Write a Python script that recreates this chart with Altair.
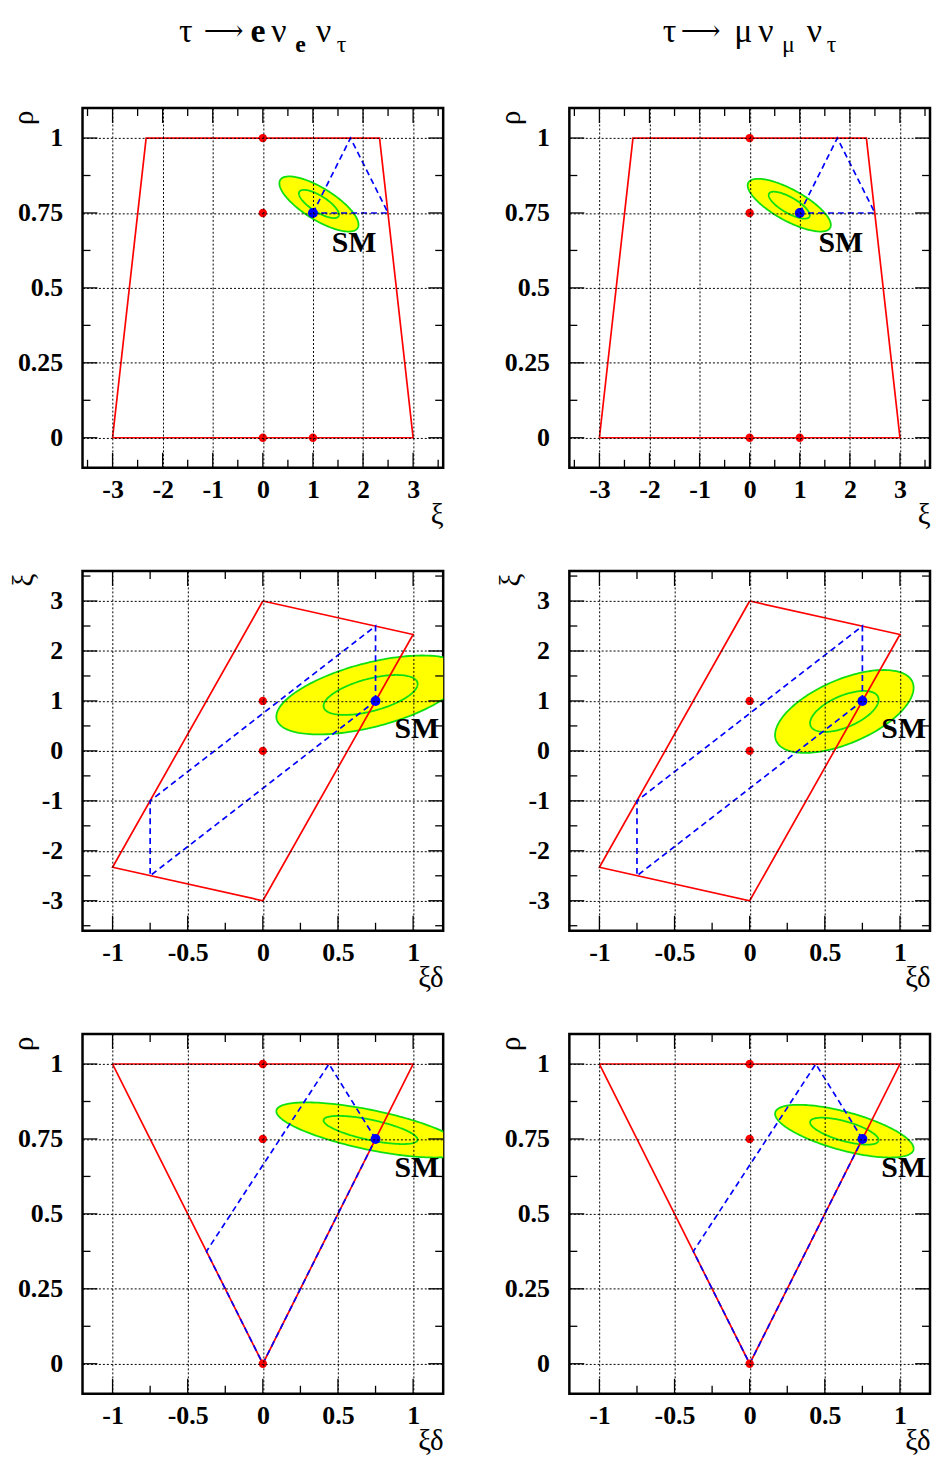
import numpy as np
import pandas as pd
import altair as alt

SERIF = "Liberation Serif"

# ---------------- data ----------------
# titles (glyph pieces: main text and subscripts)
TITLE_E = ["τ", "⟶", "e", "ν", "e", "ν", "τ"]
TITLE_MU = ["τ", "⟶", "μ", "ν", "μ", "ν", "τ"]

# axis tick values
XI_MAJOR = [-3, -2, -1, 0, 1, 2, 3]
XI_MINOR = [-3.5, -2.5, -1.5, -0.5, 0.5, 1.5, 2.5, 3.5]
RHO_MAJOR = [0, 0.25, 0.5, 0.75, 1]
RHO_MINOR = [0.125, 0.375, 0.625, 0.875]
XD_MAJOR = [-1, -0.5, 0, 0.5, 1]
XD_MINOR = [-0.75, -0.25, 0.25, 0.75]

# top row: xi (x) vs rho (y)
BOUND_TOP_X = [-3, -2.33, 2.33, 3, -3]
BOUND_TOP_Y = [0, 1, 1, 0, 0]
DASH_TOP_X = [1, 1.75, 2.5, 1]
DASH_TOP_Y = [0.75, 1, 0.75, 0.75]
DOTS_TOP_X = [0, 0, 0, 1]
DOTS_TOP_Y = [1, 0.75, 0, 0]
SM_TOP = [1, 0.75]
SMLAB_TOP = [1.82, 0.65]

# middle row: xi*delta (x) vs xi (y)
BOUND_MID_X = [0, 1, 0, -1, 0]
BOUND_MID_Y = [3, 2.33, -3, -2.33, 3]
DASH_MID_X = [0.75, 0.75, -0.75, -0.75, 0.75]
DASH_MID_Y = [1, 2.5, -1, -2.5, 1]
DOTS_MID_X = [0, 0]
DOTS_MID_Y = [1, 0]
SM_MID = [0.75, 1]
SMLAB_MID = [1.025, 0.44]

# bottom row: xi*delta (x) vs rho (y)
BOUND_BOT_X = [-1, 1, 0, -1]
BOUND_BOT_Y = [1, 1, 0, 1]
DASH_BOT_X = [0.75, 0.44, -0.375, 0, 0.75]
DASH_BOT_Y = [0.75, 1, 0.375, 0, 0.75]
DOTS_BOT_X = [0, 0, 0]
DOTS_BOT_Y = [1, 0.75, 0]
SM_BOT = [0.75, 0.75]
SMLAB_BOT = [1.025, 0.652]

# measured contours: order [xi, xi*delta, rho]
ELL_E_CENTER = [1.12, 0.717, 0.780]
ELL_E_INNER = [0.40, 0.313, 0.047]
ELL_E_OUTER = [0.79, 0.627, 0.092]
ELL_E_CORR = [-0.75, 0.55, -0.68]      # (xi,rho), (xd,xi), (xd,rho)

ELL_MU_CENTER = [0.79, 0.630, 0.776]
ELL_MU_INNER = [0.41, 0.228, 0.045]
ELL_MU_OUTER = [0.83, 0.461, 0.088]
ELL_MU_CORR = [-0.75, 0.57, -0.66]

# ---------------- styling / layout ----------------
W, H = 363, 362
TMAJ, TMIN = 15, 8
RED, BLUE, YELLOW, GREEN = "#ff0000", "#0000ff", "#ffff00", "#10e010"


def contour_outline(cx, cy, sx, sy, r, n=181):
    t = np.linspace(0, 2 * np.pi, n)
    x = cx + sx * np.cos(t)
    y = cy + sy * (r * np.cos(t) + np.sqrt(1 - r * r) * np.sin(t))
    return pd.DataFrame({"x": x, "y": y, "i": np.arange(n)})


def contour_fill(cx, cy, sx, sy, r, n=181):
    th = np.linspace(np.pi, 0, n)
    u, s = np.cos(th), np.sin(th)
    x = cx + sx * u
    yu = cy + sy * (r * u + np.sqrt(1 - r * r) * s)
    yl = cy + sy * (r * u - np.sqrt(1 - r * r) * s)
    return pd.DataFrame({"x": x, "y": yu, "y2": yl})


def axis(vals, title, orient):
    common = dict(values=vals, grid=True, gridColor="black", gridDash=[2, 2], gridWidth=1,
                  gridOpacity=1, ticks=False, domain=False, labelFont=SERIF,
                  labelFontWeight="bold", labelFontSize=26, labelColor="black",
                  labelExpr="toString(datum.value)", labelOverlap=False, labelFlush=False,
                  title=title, titleFont=SERIF, titleFontWeight="normal", titleFontSize=29,
                  titleColor="black", titleAnchor="end", zindex=1)
    if orient == "x":
        return alt.Axis(**common, labelPadding=9, titleAlign="right", titleX=W, titleY=56,
                        titleBaseline="alphabetic")
    return alt.Axis(**common, labelPadding=20, titleAlign="right", titleX=-44, titleY=2,
                    titleBaseline="bottom", titleAngle=270)


def panel(xdom, ydom, xmaj, xmin, ymaj, ymin, xtitle, ytitle,
          bx, by, dx, dy, px, py, sm, lab, ell, title=None):
    sx = alt.Scale(domain=xdom, nice=False, zero=False)
    sy = alt.Scale(domain=ydom, nice=False, zero=False)
    X = alt.X("x:Q", scale=sx, axis=axis(xmaj, xtitle, "x"))
    Y = alt.Y("y:Q", scale=sy, axis=axis(ymaj, ytitle, "y"))
    cx, cy, isx, isy, osx, osy, r = ell

    layers = []
    layers.append(alt.Chart(contour_fill(cx, cy, osx, osy, r)).mark_area(
        color=YELLOW, opacity=1, clip=True).encode(x=X, y=Y, y2="y2:Q"))
    for s1, s2 in ((osx, osy), (isx, isy)):
        layers.append(alt.Chart(contour_outline(cx, cy, s1, s2, r)).mark_line(
            color=GREEN, strokeWidth=1.8, clip=True).encode(x=X, y=Y, order="i:Q"))
    layers.append(alt.Chart(pd.DataFrame({"x": bx, "y": by, "i": range(len(bx))})).mark_line(
        color=RED, strokeWidth=1.7).encode(x=X, y=Y, order="i:Q"))
    layers.append(alt.Chart(pd.DataFrame({"x": dx, "y": dy, "i": range(len(dx))})).mark_line(
        color=BLUE, strokeWidth=1.7, strokeDash=[6, 4]).encode(x=X, y=Y, order="i:Q"))
    layers.append(alt.Chart(pd.DataFrame({"x": px, "y": py})).mark_circle(
        color=RED, size=70, opacity=1).encode(x=X, y=Y))
    layers.append(alt.Chart(pd.DataFrame({"x": [sm[0]], "y": [sm[1]]})).mark_circle(
        color=BLUE, size=100, opacity=1).encode(x=X, y=Y))
    layers.append(alt.Chart(pd.DataFrame({"x": [lab[0]], "y": [lab[1]], "t": ["SM"]})).mark_text(
        font=SERIF, fontWeight="bold", fontSize=30, align="center", baseline="middle",
        color="black").encode(x=X, y=Y, text="t:N"))
    # inner ticks on all four sides
    for vals, ln in ((xmaj, TMAJ), (xmin, TMIN)):
        d = pd.DataFrame({"x": vals})
        layers.append(alt.Chart(d).mark_rule(color="black", strokeWidth=1.3).encode(
            x=X, y=alt.value(0), y2=alt.value(ln)))
        layers.append(alt.Chart(d).mark_rule(color="black", strokeWidth=1.3).encode(
            x=X, y=alt.value(H), y2=alt.value(H - ln)))
    for vals, ln in ((ymaj, TMAJ), (ymin, TMIN)):
        d = pd.DataFrame({"y": vals})
        layers.append(alt.Chart(d).mark_rule(color="black", strokeWidth=1.3).encode(
            y=Y, x=alt.value(0), x2=alt.value(ln)))
        layers.append(alt.Chart(d).mark_rule(color="black", strokeWidth=1.3).encode(
            y=Y, x=alt.value(W), x2=alt.value(W - ln)))
    if title is not None:
        for txt, tx, ty, size, font in title:
            layers.append(alt.Chart(pd.DataFrame({"t": [txt]})).mark_text(
                font=font[0], fontSize=size, fontWeight=font[1],
                align="left", baseline="alphabetic", color="black").encode(
                x=alt.value(tx), y=alt.value(ty), text="t:N"))
    return alt.layer(*layers).properties(width=W, height=H)


def ell_params(center, inner, outer, corr, ix, iy, ic):
    return (center[ix], center[iy], inner[ix], inner[iy], outer[ix], outer[iy], corr[ic])


MAIN, SUB, ARR = 34, 24, 28
BASE, SUBBASE, ARRBASE = -67, -56, -69
REG, BLD, ARF = (SERIF, "normal"), (SERIF, "bold"), ("DejaVu Serif", "normal")
title_e = [(TITLE_E[0], 97, BASE, MAIN, REG), (TITLE_E[1], 122, ARRBASE, ARR, ARF),
           (TITLE_E[2], 169, BASE, MAIN, BLD), (TITLE_E[3], 190, BASE, MAIN, REG),
           (TITLE_E[4], 214, SUBBASE, SUB, BLD), (TITLE_E[5], 235, BASE, MAIN, REG),
           (TITLE_E[6], 256, SUBBASE, SUB, REG)]
title_mu = [(TITLE_MU[0], 94, BASE, MAIN, REG), (TITLE_MU[1], 112, ARRBASE, ARR, ARF),
            (TITLE_MU[2], 166, BASE, MAIN, REG), (TITLE_MU[3], 190, BASE, MAIN, REG),
            (TITLE_MU[4], 214, SUBBASE, SUB, REG), (TITLE_MU[5], 239, BASE, MAIN, REG),
            (TITLE_MU[6], 259, SUBBASE, SUB, REG)]

panels = []
for rowi in range(3):
    for col, (C, I, O, R, ttl) in enumerate((
            (ELL_E_CENTER, ELL_E_INNER, ELL_E_OUTER, ELL_E_CORR, title_e),
            (ELL_MU_CENTER, ELL_MU_INNER, ELL_MU_OUTER, ELL_MU_CORR, title_mu))):
        if rowi == 0:
            p = panel([-3.6, 3.6], [-0.1, 1.1], XI_MAJOR, XI_MINOR, RHO_MAJOR, RHO_MINOR,
                      "ξ", "ρ", BOUND_TOP_X, BOUND_TOP_Y, DASH_TOP_X, DASH_TOP_Y,
                      DOTS_TOP_X, DOTS_TOP_Y, SM_TOP, SMLAB_TOP,
                      ell_params(C, I, O, R, 0, 2, 0), title=ttl)
        elif rowi == 1:
            p = panel([-1.2, 1.2], [-3.6, 3.6], XD_MAJOR, XD_MINOR, XI_MAJOR, XI_MINOR,
                      "ξδ", "ξ", BOUND_MID_X, BOUND_MID_Y, DASH_MID_X, DASH_MID_Y,
                      DOTS_MID_X, DOTS_MID_Y, SM_MID, SMLAB_MID,
                      ell_params(C, I, O, R, 1, 0, 1))
        else:
            p = panel([-1.2, 1.2], [-0.1, 1.1], XD_MAJOR, XD_MINOR, RHO_MAJOR, RHO_MINOR,
                      "ξδ", "ρ", BOUND_BOT_X, BOUND_BOT_Y, DASH_BOT_X, DASH_BOT_Y,
                      DOTS_BOT_X, DOTS_BOT_Y, SM_BOT, SMLAB_BOT,
                      ell_params(C, I, O, R, 1, 2, 2))
        panels.append(p)

chart = alt.concat(*panels, columns=2, spacing={"row": 104, "column": 127},
                   bounds="flush").properties(
    padding={"left": 0, "top": 0, "right": 0, "bottom": 0},
    background="white",
).configure_view(stroke="black", strokeWidth=2.5)

chart.save("out.html", embed_options={"renderer": "svg", "actions": False})
